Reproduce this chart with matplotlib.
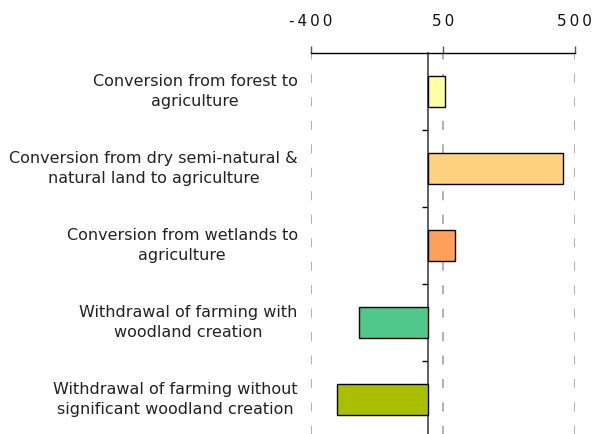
import matplotlib
matplotlib.use("Agg")
import matplotlib.pyplot as plt

categories = [
    "Conversion from forest to\nagriculture",
    "Conversion from dry semi-natural &\nnatural land to agriculture",
    "Conversion from wetlands to\nagriculture",
    "Withdrawal of farming with\nwoodland creation",
    "Withdrawal of farming without\nsignificant woodland creation",
]
values = [57, 460, 92, -235, -311]
colors = ["#FFFFA6", "#FFD280", "#FFA05A", "#50C88A", "#AABF00"]
xticks = [-400, 50, 500]
xtick_labels = ["-400", "50", "500"]

fig = plt.figure(figsize=(5.96, 4.34), dpi=100)
ax = fig.add_axes([310.7 / 596, 1 - 438 / 434, 264 / 596, 385 / 434])

ypos = list(range(len(categories)))
ax.barh(ypos, values, height=0.39, color=colors, edgecolor="black", linewidth=1.0, zorder=3)

ax.set_xlim(-400, 500)
ax.set_ylim(len(categories) - 0.5, -0.5)

# x-axis on top
ax.xaxis.set_ticks_position("top")
ax.xaxis.set_label_position("top")
ax.set_xticks(xticks)
sp = "\u2009"
ax.set_xticklabels([sp.join(list(t)) for t in xtick_labels], fontsize=11, color="#111111")
ax.tick_params(axis="x", which="major", direction="out", length=5, width=1, color="#555555", pad=12)
ax.grid(axis="x", color="#aaaaaa", linestyle=(0, (5, 8)), linewidth=1.3, zorder=0)

# y axis at zero
ax.spines["left"].set_position(("data", 0))
ax.spines["left"].set_color("#444444")
ax.spines["left"].set_linewidth(1.2)
ax.spines["right"].set_visible(False)
ax.spines["bottom"].set_visible(False)
ax.spines["top"].set_color("black")
ax.spines["top"].set_linewidth(1.0)

ax.set_yticks([i + 0.5 for i in ypos[:-1]])
ax.set_yticklabels([])
ax.tick_params(axis="y", which="major", direction="out", length=4, width=1, color="black")

for i, lab in zip(ypos, categories):
    ax.annotate(lab, xy=(0, i), xycoords=("axes fraction", "data"),
                xytext=(-13, 0), textcoords="offset pixels",
                ha="right", va="center", multialignment="center",
                fontsize=11.5, color="#222222", linespacing=1.45)

fig.savefig("out.png", dpi=100)
